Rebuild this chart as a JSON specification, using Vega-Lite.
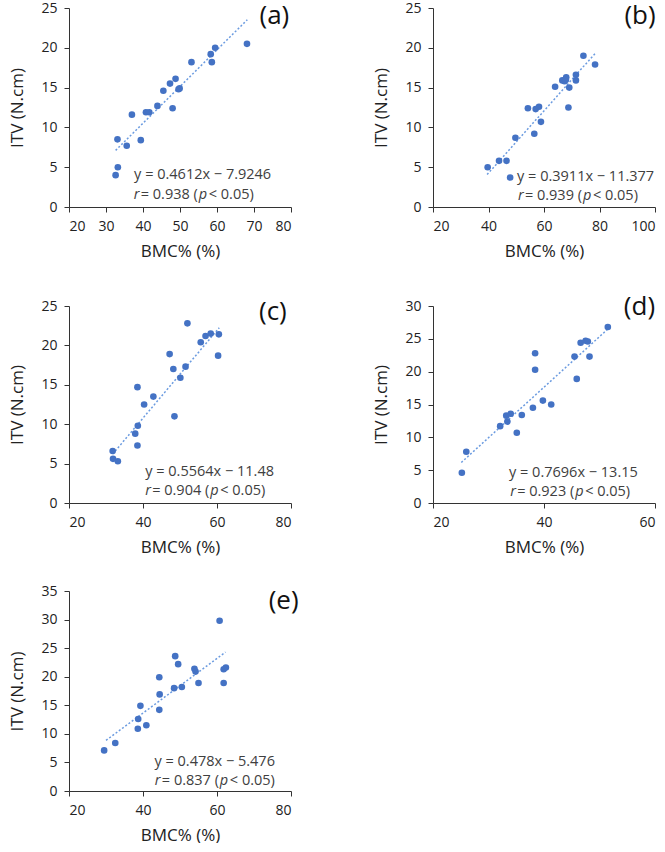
{
  "$schema": "https://vega.github.io/schema/vega-lite/v6.json",
  "padding": {"left": 8, "top": 1, "right": 0, "bottom": 0},
  "config": {
    "view": {"stroke": null},
    "font": "Open Sans",
    "axis": {
      "grid": false,
      "domainColor": "#333333",
      "tickColor": "#333333",
      "labelColor": "#222222",
      "labelFontSize": 14,
      "titleFontSize": 17,
      "titleFontWeight": "normal",
      "titleColor": "#222222",
      "tickSize": 5,
      "labelPadding": 7
    },
    "axisY": {"titlePadding": 14},
    "axisX": {"titlePadding": 10}
  },
  "datasets": {
    "pts": [
      {"p": "a", "x": 32.6, "y": 4.0}, {"p": "a", "x": 33.2, "y": 5.0}, {"p": "a", "x": 33.1, "y": 8.5},
      {"p": "a", "x": 35.6, "y": 7.7}, {"p": "a", "x": 37.0, "y": 11.6}, {"p": "a", "x": 39.4, "y": 8.4},
      {"p": "a", "x": 40.8, "y": 11.9}, {"p": "a", "x": 41.7, "y": 11.9}, {"p": "a", "x": 43.9, "y": 12.7},
      {"p": "a", "x": 45.5, "y": 14.6}, {"p": "a", "x": 47.3, "y": 15.5}, {"p": "a", "x": 48.0, "y": 12.4},
      {"p": "a", "x": 48.8, "y": 16.1}, {"p": "a", "x": 49.6, "y": 14.8}, {"p": "a", "x": 49.9, "y": 14.9},
      {"p": "a", "x": 53.1, "y": 18.2}, {"p": "a", "x": 58.3, "y": 19.2}, {"p": "a", "x": 58.6, "y": 18.2},
      {"p": "a", "x": 59.5, "y": 20.0}, {"p": "a", "x": 68.1, "y": 20.5},

      {"p": "b", "x": 39.7, "y": 5.0}, {"p": "b", "x": 43.8, "y": 5.8}, {"p": "b", "x": 46.5, "y": 5.8},
      {"p": "b", "x": 47.8, "y": 3.7}, {"p": "b", "x": 49.7, "y": 8.7}, {"p": "b", "x": 54.2, "y": 12.4},
      {"p": "b", "x": 56.5, "y": 9.2}, {"p": "b", "x": 57.0, "y": 12.3}, {"p": "b", "x": 58.2, "y": 12.6},
      {"p": "b", "x": 58.9, "y": 10.7}, {"p": "b", "x": 64.0, "y": 15.1}, {"p": "b", "x": 66.6, "y": 15.9},
      {"p": "b", "x": 67.4, "y": 15.8}, {"p": "b", "x": 68.0, "y": 16.3}, {"p": "b", "x": 67.9, "y": 16.0},
      {"p": "b", "x": 69.1, "y": 15.0}, {"p": "b", "x": 68.8, "y": 12.5}, {"p": "b", "x": 71.5, "y": 16.6},
      {"p": "b", "x": 71.5, "y": 15.9}, {"p": "b", "x": 74.2, "y": 19.0}, {"p": "b", "x": 78.4, "y": 17.9},

      {"p": "c", "x": 31.8, "y": 6.6}, {"p": "c", "x": 31.9, "y": 5.6}, {"p": "c", "x": 33.2, "y": 5.3},
      {"p": "c", "x": 37.9, "y": 8.8}, {"p": "c", "x": 38.5, "y": 14.7}, {"p": "c", "x": 38.6, "y": 9.8},
      {"p": "c", "x": 38.5, "y": 7.3}, {"p": "c", "x": 40.3, "y": 12.5}, {"p": "c", "x": 42.8, "y": 13.5},
      {"p": "c", "x": 47.2, "y": 18.9}, {"p": "c", "x": 48.2, "y": 17.0}, {"p": "c", "x": 48.5, "y": 11.0},
      {"p": "c", "x": 50.1, "y": 15.9}, {"p": "c", "x": 51.5, "y": 17.3}, {"p": "c", "x": 52.0, "y": 22.8},
      {"p": "c", "x": 55.6, "y": 20.4}, {"p": "c", "x": 56.9, "y": 21.2}, {"p": "c", "x": 58.3, "y": 21.5},
      {"p": "c", "x": 60.5, "y": 21.4}, {"p": "c", "x": 60.3, "y": 18.7},

      {"p": "d", "x": 25.2, "y": 4.6}, {"p": "d", "x": 26.0, "y": 7.8}, {"p": "d", "x": 32.1, "y": 11.7},
      {"p": "d", "x": 33.2, "y": 13.3}, {"p": "d", "x": 33.4, "y": 12.4}, {"p": "d", "x": 34.0, "y": 13.6},
      {"p": "d", "x": 35.1, "y": 10.7}, {"p": "d", "x": 36.0, "y": 13.4}, {"p": "d", "x": 38.0, "y": 14.5},
      {"p": "d", "x": 38.4, "y": 22.8}, {"p": "d", "x": 38.4, "y": 20.3}, {"p": "d", "x": 39.8, "y": 15.6},
      {"p": "d", "x": 41.3, "y": 15.0}, {"p": "d", "x": 45.5, "y": 22.3}, {"p": "d", "x": 45.9, "y": 18.9},
      {"p": "d", "x": 46.6, "y": 24.4}, {"p": "d", "x": 47.5, "y": 24.7}, {"p": "d", "x": 47.9, "y": 24.6},
      {"p": "d", "x": 48.2, "y": 22.3}, {"p": "d", "x": 51.5, "y": 26.8},

      {"p": "e", "x": 29.5, "y": 7.1}, {"p": "e", "x": 32.5, "y": 8.4}, {"p": "e", "x": 38.6, "y": 10.9},
      {"p": "e", "x": 38.7, "y": 12.6}, {"p": "e", "x": 39.3, "y": 14.9}, {"p": "e", "x": 40.9, "y": 11.5},
      {"p": "e", "x": 44.4, "y": 19.9}, {"p": "e", "x": 44.5, "y": 16.9}, {"p": "e", "x": 44.4, "y": 14.2},
      {"p": "e", "x": 48.4, "y": 18.0}, {"p": "e", "x": 48.7, "y": 23.6}, {"p": "e", "x": 49.5, "y": 22.2},
      {"p": "e", "x": 50.5, "y": 18.2}, {"p": "e", "x": 53.9, "y": 21.4}, {"p": "e", "x": 54.2, "y": 20.9},
      {"p": "e", "x": 55.0, "y": 18.9}, {"p": "e", "x": 60.7, "y": 29.8}, {"p": "e", "x": 61.8, "y": 18.9},
      {"p": "e", "x": 61.8, "y": 21.3}, {"p": "e", "x": 62.4, "y": 21.6}
    ],
    "fit": [
      {"p": "a", "x": 32.6, "y": 7.11}, {"p": "a", "x": 68.2, "y": 23.53},
      {"p": "b", "x": 39.5, "y": 4.07}, {"p": "b", "x": 78.5, "y": 19.32},
      {"p": "c", "x": 31.8, "y": 6.21}, {"p": "c", "x": 60.6, "y": 22.24},
      {"p": "d", "x": 25.1, "y": 6.17}, {"p": "d", "x": 52.0, "y": 26.87},
      {"p": "e", "x": 30.0, "y": 8.86}, {"p": "e", "x": 62.3, "y": 24.30}
    ],
    "notes": [
      {"p": "a", "k": "eq", "x": 37.6, "y": 4.0, "t": "y = 0.4612x − 7.9246"},
      {"p": "a", "k": "it", "x": 37.5, "y": 1.5, "t": "r"},
      {"p": "a", "k": "eq", "x": 39.39, "y": 1.5, "t": "= 0.938 ("},
      {"p": "a", "k": "it", "x": 55.07, "y": 1.5, "t": "p"},
      {"p": "a", "k": "eq", "x": 57.77, "y": 1.5, "t": "< 0.05)"},
      {"p": "a", "k": "tag", "x": 75.5, "y": 24.0, "t": "(a)"},

      {"p": "b", "k": "eq", "x": 50.3, "y": 3.8, "t": "y = 0.3911x − 11.377"},
      {"p": "b", "k": "it", "x": 50.6, "y": 1.35, "t": "r"},
      {"p": "b", "k": "eq", "x": 53.12, "y": 1.35, "t": "= 0.939 ("},
      {"p": "b", "k": "it", "x": 74.02, "y": 1.35, "t": "p"},
      {"p": "b", "k": "eq", "x": 77.63, "y": 1.35, "t": "< 0.05)"},
      {"p": "b", "k": "tag", "x": 94.6, "y": 24.0, "t": "(b)"},

      {"p": "c", "k": "eq", "x": 40.6, "y": 3.9, "t": "y = 0.5564x − 11.48"},
      {"p": "c", "k": "it", "x": 40.6, "y": 1.5, "t": "r"},
      {"p": "c", "k": "eq", "x": 42.49, "y": 1.5, "t": "= 0.904 ("},
      {"p": "c", "k": "it", "x": 58.17, "y": 1.5, "t": "p"},
      {"p": "c", "k": "eq", "x": 60.87, "y": 1.5, "t": "< 0.05)"},
      {"p": "c", "k": "tag", "x": 75.1, "y": 24.2, "t": "(c)"},

      {"p": "d", "k": "eq", "x": 33.7, "y": 4.6, "t": "y = 0.7696x − 13.15"},
      {"p": "d", "k": "it", "x": 33.9, "y": 1.7, "t": "r"},
      {"p": "d", "k": "eq", "x": 35.16, "y": 1.7, "t": "= 0.923 ("},
      {"p": "d", "k": "it", "x": 45.61, "y": 1.7, "t": "p"},
      {"p": "d", "k": "eq", "x": 47.41, "y": 1.7, "t": "< 0.05)"},
      {"p": "d", "k": "tag", "x": 57.2, "y": 29.9, "t": "(d)"},

      {"p": "e", "k": "eq", "x": 43.1, "y": 5.1, "t": "y = 0.478x − 5.476"},
      {"p": "e", "k": "it", "x": 43.2, "y": 1.75, "t": "r"},
      {"p": "e", "k": "eq", "x": 45.09, "y": 1.75, "t": "= 0.837 ("},
      {"p": "e", "k": "it", "x": 60.77, "y": 1.75, "t": "p"},
      {"p": "e", "k": "eq", "x": 63.47, "y": 1.75, "t": "< 0.05)"},
      {"p": "e", "k": "tag", "x": 78.0, "y": 33.2, "t": "(e)"}
    ]
  },
  "spacing": 34,
  "vconcat": [
    {
      "spacing": 80,
      "hconcat": [
        {
          "width": 222, "height": 199,
          "encoding": {
            "x": {"field": "x", "type": "quantitative", "title": "BMC% (%)", "scale": {"domain": [20, 80], "nice": false}, "axis": {"values": [20, 30, 40, 50, 60, 70, 80]}},
            "y": {"field": "y", "type": "quantitative", "title": "ITV (N.cm)", "scale": {"domain": [0, 25], "nice": false}, "axis": {"values": [0, 5, 10, 15, 20, 25]}}
          },
          "layer": [
            {"data": {"name": "fit"}, "transform": [{"filter": "datum.p == 'a'"}], "mark": {"type": "line", "color": "#6b9be0", "strokeDash": [2, 2], "strokeWidth": 1.5}},
            {"data": {"name": "pts"}, "transform": [{"filter": "datum.p == 'a'"}], "mark": {"type": "circle", "size": 44, "opacity": 1, "color": "#4472c4"}},
            {"data": {"name": "notes"}, "transform": [{"filter": "datum.p == 'a' && datum.k == 'eq'"}], "mark": {"type": "text", "align": "left", "baseline": "middle", "fontSize": 14.5, "color": "#404040"}, "encoding": {"text": {"field": "t"}}},
            {"data": {"name": "notes"}, "transform": [{"filter": "datum.p == 'a' && datum.k == 'it'"}], "mark": {"type": "text", "align": "left", "baseline": "middle", "fontSize": 14.5, "fontStyle": "italic", "color": "#404040"}, "encoding": {"text": {"field": "t"}}},
            {"data": {"name": "notes"}, "transform": [{"filter": "datum.p == 'a' && datum.k == 'tag'"}], "mark": {"type": "text", "align": "center", "baseline": "middle", "fontSize": 26, "color": "#111111"}, "encoding": {"text": {"field": "t"}}}
          ]
        },
        {
          "width": 222, "height": 199,
          "encoding": {
            "x": {"field": "x", "type": "quantitative", "title": "BMC% (%)", "scale": {"domain": [20, 100], "nice": false}, "axis": {"values": [20, 40, 60, 80, 100]}},
            "y": {"field": "y", "type": "quantitative", "title": "ITV (N.cm)", "scale": {"domain": [0, 25], "nice": false}, "axis": {"values": [0, 5, 10, 15, 20, 25]}}
          },
          "layer": [
            {"data": {"name": "fit"}, "transform": [{"filter": "datum.p == 'b'"}], "mark": {"type": "line", "color": "#6b9be0", "strokeDash": [2, 2], "strokeWidth": 1.5}},
            {"data": {"name": "pts"}, "transform": [{"filter": "datum.p == 'b'"}], "mark": {"type": "circle", "size": 44, "opacity": 1, "color": "#4472c4"}},
            {"data": {"name": "notes"}, "transform": [{"filter": "datum.p == 'b' && datum.k == 'eq'"}], "mark": {"type": "text", "align": "left", "baseline": "middle", "fontSize": 14.5, "color": "#404040"}, "encoding": {"text": {"field": "t"}}},
            {"data": {"name": "notes"}, "transform": [{"filter": "datum.p == 'b' && datum.k == 'it'"}], "mark": {"type": "text", "align": "left", "baseline": "middle", "fontSize": 14.5, "fontStyle": "italic", "color": "#404040"}, "encoding": {"text": {"field": "t"}}},
            {"data": {"name": "notes"}, "transform": [{"filter": "datum.p == 'b' && datum.k == 'tag'"}], "mark": {"type": "text", "align": "center", "baseline": "middle", "fontSize": 26, "color": "#111111"}, "encoding": {"text": {"field": "t"}}}
          ]
        }
      ]
    },
    {
      "spacing": 29,
      "vconcat": [
        {
          "spacing": 80,
          "hconcat": [
            {
              "width": 222, "height": 197,
              "encoding": {
                "x": {"field": "x", "type": "quantitative", "title": "BMC% (%)", "scale": {"domain": [20, 80], "nice": false}, "axis": {"values": [20, 40, 60, 80]}},
                "y": {"field": "y", "type": "quantitative", "title": "ITV (N.cm)", "scale": {"domain": [0, 25], "nice": false}, "axis": {"values": [0, 5, 10, 15, 20, 25]}}
              },
              "layer": [
                {"data": {"name": "fit"}, "transform": [{"filter": "datum.p == 'c'"}], "mark": {"type": "line", "color": "#6b9be0", "strokeDash": [2, 2], "strokeWidth": 1.5}},
                {"data": {"name": "pts"}, "transform": [{"filter": "datum.p == 'c'"}], "mark": {"type": "circle", "size": 44, "opacity": 1, "color": "#4472c4"}},
                {"data": {"name": "notes"}, "transform": [{"filter": "datum.p == 'c' && datum.k == 'eq'"}], "mark": {"type": "text", "align": "left", "baseline": "middle", "fontSize": 14.5, "color": "#404040"}, "encoding": {"text": {"field": "t"}}},
                {"data": {"name": "notes"}, "transform": [{"filter": "datum.p == 'c' && datum.k == 'it'"}], "mark": {"type": "text", "align": "left", "baseline": "middle", "fontSize": 14.5, "fontStyle": "italic", "color": "#404040"}, "encoding": {"text": {"field": "t"}}},
                {"data": {"name": "notes"}, "transform": [{"filter": "datum.p == 'c' && datum.k == 'tag'"}], "mark": {"type": "text", "align": "center", "baseline": "middle", "fontSize": 26, "color": "#111111"}, "encoding": {"text": {"field": "t"}}}
              ]
            },
            {
              "width": 222, "height": 197,
              "encoding": {
                "x": {"field": "x", "type": "quantitative", "title": "BMC% (%)", "scale": {"domain": [20, 60], "nice": false}, "axis": {"values": [20, 40, 60]}},
                "y": {"field": "y", "type": "quantitative", "title": "ITV (N.cm)", "scale": {"domain": [0, 30], "nice": false}, "axis": {"values": [0, 5, 10, 15, 20, 25, 30]}}
              },
              "layer": [
                {"data": {"name": "fit"}, "transform": [{"filter": "datum.p == 'd'"}], "mark": {"type": "line", "color": "#6b9be0", "strokeDash": [2, 2], "strokeWidth": 1.5}},
                {"data": {"name": "pts"}, "transform": [{"filter": "datum.p == 'd'"}], "mark": {"type": "circle", "size": 44, "opacity": 1, "color": "#4472c4"}},
                {"data": {"name": "notes"}, "transform": [{"filter": "datum.p == 'd' && datum.k == 'eq'"}], "mark": {"type": "text", "align": "left", "baseline": "middle", "fontSize": 14.5, "color": "#404040"}, "encoding": {"text": {"field": "t"}}},
                {"data": {"name": "notes"}, "transform": [{"filter": "datum.p == 'd' && datum.k == 'it'"}], "mark": {"type": "text", "align": "left", "baseline": "middle", "fontSize": 14.5, "fontStyle": "italic", "color": "#404040"}, "encoding": {"text": {"field": "t"}}},
                {"data": {"name": "notes"}, "transform": [{"filter": "datum.p == 'd' && datum.k == 'tag'"}], "mark": {"type": "text", "align": "center", "baseline": "middle", "fontSize": 26, "color": "#111111"}, "encoding": {"text": {"field": "t"}}}
              ]
            }
          ]
        },
        {
          "width": 222, "height": 200,
          "encoding": {
            "x": {"field": "x", "type": "quantitative", "title": "BMC% (%)", "scale": {"domain": [20, 80], "nice": false}, "axis": {"values": [20, 40, 60, 80]}},
            "y": {"field": "y", "type": "quantitative", "title": "ITV (N.cm)", "scale": {"domain": [0, 35], "nice": false}, "axis": {"values": [0, 5, 10, 15, 20, 25, 30, 35]}}
          },
          "layer": [
            {"data": {"name": "fit"}, "transform": [{"filter": "datum.p == 'e'"}], "mark": {"type": "line", "color": "#6b9be0", "strokeDash": [2, 2], "strokeWidth": 1.5}},
            {"data": {"name": "pts"}, "transform": [{"filter": "datum.p == 'e'"}], "mark": {"type": "circle", "size": 44, "opacity": 1, "color": "#4472c4"}},
            {"data": {"name": "notes"}, "transform": [{"filter": "datum.p == 'e' && datum.k == 'eq'"}], "mark": {"type": "text", "align": "left", "baseline": "middle", "fontSize": 14.5, "color": "#404040"}, "encoding": {"text": {"field": "t"}}},
            {"data": {"name": "notes"}, "transform": [{"filter": "datum.p == 'e' && datum.k == 'it'"}], "mark": {"type": "text", "align": "left", "baseline": "middle", "fontSize": 14.5, "fontStyle": "italic", "color": "#404040"}, "encoding": {"text": {"field": "t"}}},
            {"data": {"name": "notes"}, "transform": [{"filter": "datum.p == 'e' && datum.k == 'tag'"}], "mark": {"type": "text", "align": "center", "baseline": "middle", "fontSize": 26, "color": "#111111"}, "encoding": {"text": {"field": "t"}}}
          ]
        }
      ]
    }
  ]
}
